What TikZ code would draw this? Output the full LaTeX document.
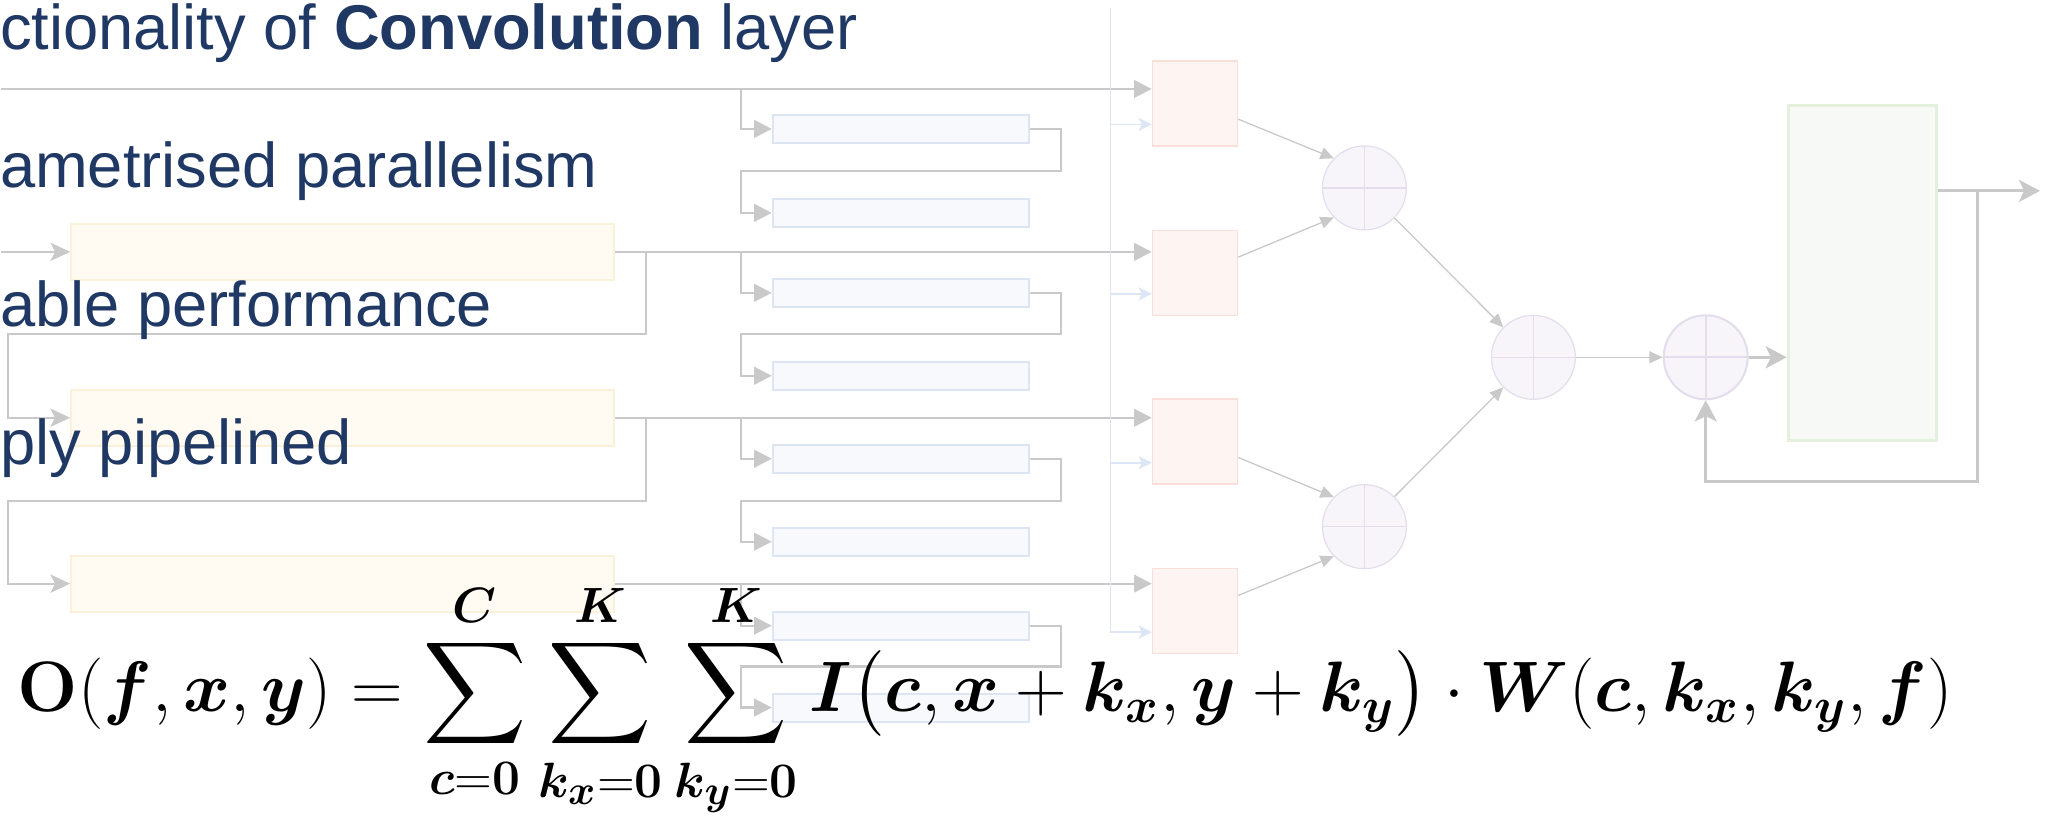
\documentclass[tikz,border=0pt]{standalone}
\usepackage[no-math]{fontspec}
\usepackage{amsmath,amssymb}
\usepackage{bm}
\usepackage{xcolor}
\usetikzlibrary{arrows.meta,positioning}

\newfontfamily\arialfont{Liberation Sans}

\definecolor{titleblue}{RGB}{31,56,100}
\definecolor{linegray}{RGB}{201,201,201}
\definecolor{busblue}{RGB}{220,230,246}
\definecolor{yelfill}{RGB}{255,251,242}
\definecolor{yelline}{RGB}{251,241,216}
\definecolor{blufill}{RGB}{247,249,253}
\definecolor{bluline}{RGB}{221,229,244}
\definecolor{redfill}{RGB}{254,245,243}
\definecolor{redline}{RGB}{249,222,218}
\definecolor{addfill}{RGB}{247,245,250}
\definecolor{addline}{RGB}{228,222,236}
\definecolor{grnfill}{RGB}{246,249,245}
\definecolor{grnline}{RGB}{226,240,220}

\begin{document}
\begin{tikzpicture}[x=0.01cm,y=-0.01cm]
  \tikzstyle{feature} = [anchor=base west, inner sep=0pt, text=titleblue, font=\arialfont\fontsize{18pt}{21pt}\selectfont]
  \tikzstyle{linebuf} = [rectangle, draw=yelline, fill=yelfill, line width=0.55pt, minimum width=5.43cm, minimum height=0.56cm]
  \tikzstyle{winbuf} = [rectangle, draw=bluline, fill=blufill, line width=0.55pt, minimum width=2.56cm, minimum height=0.28cm]
  \tikzstyle{mult} = [rectangle, draw=redline, fill=redfill, line width=0.45pt, minimum size=0.85cm]
  \tikzstyle{adder} = [circle, draw=addline, fill=addfill, line width=0.35pt, minimum size=0.84cm, inner sep=0pt,
    path picture={\draw[addline] (path picture bounding box.north) -- (path picture bounding box.south)
      (path picture bounding box.west) -- (path picture bounding box.east);}]
  \tikzstyle{accbuf} = [rectangle, draw=grnline, fill=grnfill, line width=0.8pt, minimum width=1.48cm, minimum height=3.35cm]
  \tikzstyle{line} = [draw=linegray, line width=0.63pt, -{Triangle[length=5pt,width=5pt]}]
  \tikzstyle{feed} = [draw=linegray, line width=0.63pt, -{Stealth[length=5.6pt,width=5.2pt,inset=1.3pt]}]
  \tikzstyle{bus} = [draw=busblue, line width=0.45pt, -{Stealth[length=3.8pt,width=3.8pt,inset=1pt]}]
  \tikzstyle{sum} = [draw=linegray, line width=0.37pt, -{Triangle[length=3.8pt,width=3.4pt]}]
  \tikzstyle{wide} = [draw=linegray, line width=0.85pt, -{Stealth[length=6pt,width=6.3pt,inset=1.5pt]}]

  % Line buffers
  \node[linebuf] (lb1) at (341.5,252) {};
  \node[linebuf] (lb2) at (341.5,418) {};
  \node[linebuf] (lb3) at (341.5,584) {};

  % Window buffers
  \node[winbuf] (wb1) at (900,129) {};
  \node[winbuf] (wb2) at (900,213) {};
  \node[winbuf] (wb3) at (900,293) {};
  \node[winbuf] (wb4) at (900,376) {};
  \node[winbuf] (wb5) at (900,459) {};
  \node[winbuf] (wb6) at (900,542) {};
  \node[winbuf] (wb7) at (900,626) {};
  \node[winbuf] (wb8) at (900,708) {};

  % Multipliers, adder tree, accumulator
  \node[mult] (m1) at (1194.5,103.5) {};
  \node[mult] (m2) at (1194.5,273) {};
  \node[mult] (m3) at (1194.5,442) {};
  \node[mult] (m4) at (1194.5,611.5) {};
  \node[adder] (a1) at (1364,188) {};
  \node[adder] (a2) at (1364,527) {};
  \node[adder] (a3) at (1533,357.5) {};
  \node[adder, line width=0.6pt] (a4) at (1705.5,357.5) {};
  \node[accbuf] (acc) at (1862,273.5) {};

  \coordinate (in1) at (0,89);
  \coordinate (in2) at (0,252);
  \coordinate (s1) at (740,89);
  \coordinate (s2) at (740,252);
  \coordinate (s3) at (740,418);
  \coordinate (s4) at (740,584);
  \coordinate (f2) at (645,252);
  \coordinate (f3) at (645,418);
  \coordinate (top) at (1110,8);
  \coordinate (p1) at ([yshift=-0.21cm]m1.west);
  \coordinate (p2) at ([yshift=-0.21cm]m2.west);
  \coordinate (p3) at ([yshift=-0.21cm]m3.west);
  \coordinate (p4) at ([yshift=-0.21cm]m4.west);
  \coordinate (fb) at (1977,191);
  \coordinate (out) at (2040,191);

  % Input rows
  \draw[line] (in1) -- (in1 -| m1.west);
  \draw[feed] (in2) -- (lb1.west);
  \draw[line] (lb1.east) -- (lb1.east -| m2.west);
  \draw[line] (lb2.east) -- (lb2.east -| m3.west);
  \draw[line] (lb3.east) -- (lb3.east -| m4.west);
  \draw[feed] (f2) -- ++(0,82) -| ++(-638,84) -- (lb2.west);
  \draw[feed] (f3) -- ++(0,83) -| ++(-638,83) -- (lb3.west);

  % Window rows
  \draw[line] (s1) |- (wb1.west);
  \draw[line] (wb1.east) -| ++(31,42) -| (wb2.west -| s1) -- (wb2.west);
  \draw[line] (s2) |- (wb3.west);
  \draw[line] (wb3.east) -| ++(31,41) -| (wb4.west -| s2) -- (wb4.west);
  \draw[line] (s3) |- (wb5.west);
  \draw[line] (wb5.east) -| ++(31,42) -| (wb6.west -| s3) -- (wb6.west);
  \draw[line] (s4) |- (wb7.west);
  \draw[line] (wb7.east) -| ++(31,41) -| (wb8.west -| s4) -- (wb8.west);

  % Weights
  \draw[bus] (top) |- (p4);
  \draw[bus] (p1 -| top) -- (p1);
  \draw[bus] (p2 -| top) -- (p2);
  \draw[bus] (p3 -| top) -- (p3);

  % Adder tree
  \draw[sum] (m1.-20) -- (a1.136);
  \draw[sum] (m2.20) -- (a1.224);
  \draw[sum] (m3.-20) -- (a2.136);
  \draw[sum] (m4.20) -- (a2.224);
  \draw[sum] (a1.-45) -- (a3.135);
  \draw[sum] (a2.45) -- (a3.225);
  \draw[sum] (a3) -- (a4);
  \draw[wide] (a4.east) -- (a4.east -| acc.west);
  \draw[wide] (acc.east |- out) -- (out);
  \draw[wide] (fb) -- ++(0,291) -| (a4.south);

  % Features
  \node[feature] (t1) at (-2,50) {ctionality of \textbf{Convolution} layer};
  \node[feature] (t2) at (-2,188) {ametrised parallelism};
  \node[feature] (t3) at (-2,327) {able performance};
  \node[feature] (t4) at (-2,465) {ply pipelined};

  % Formula
  \node[anchor=base west, inner sep=0pt, font=\fontsize{20.74pt}{25pt}\selectfont] (eq) at (16,712)
    {\scalebox{0.98}{$\displaystyle \mathbf{O}(\bm{f},\bm{x},\bm{y}) = \sum_{\bm{c}=\mathbf{0}}^{\bm{C}} \sum_{\bm{k_x}=\mathbf{0}}^{\bm{K}} \sum_{\bm{k_y}=\mathbf{0}}^{\bm{K}} \bm{I}\big(\bm{c},\bm{x}+\bm{k_x},\bm{y}+\bm{k_y}\big)\cdot\bm{W}(\bm{c},\bm{k_x},\bm{k_y},\bm{f})$}};

  \useasboundingbox (0,0) rectangle (2049,823);
\end{tikzpicture}
\end{document}
